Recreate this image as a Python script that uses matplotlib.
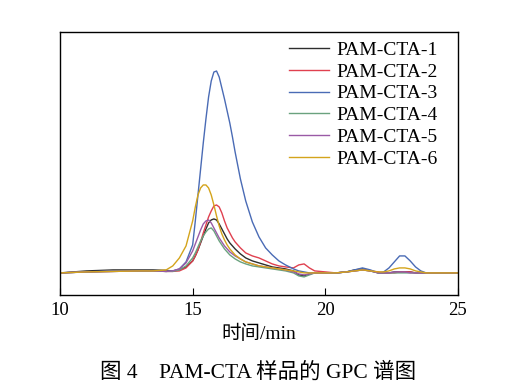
import matplotlib
matplotlib.use('Agg')
import matplotlib.pyplot as plt

plt.rcParams['font.family'] = ['Liberation Serif', 'Noto Sans CJK SC']

# elution time (min) and detector response for each sample
time_min = [10, 11, 12, 13, 13.5, 14, 14.25, 14.5, 14.75,
            15.0, 15.1, 15.2, 15.3, 15.4, 15.5, 15.6, 15.7, 15.8, 15.9,
            16.0, 16.1, 16.2, 16.3, 16.4, 16.5, 16.6, 16.8, 17.0,
            17.25, 17.5, 17.75, 18.0, 18.25, 18.5, 18.8, 19.0, 19.2, 19.4, 19.6,
            20.0, 20.4, 20.8, 21.1, 21.4, 21.7, 22.0, 22.2, 22.4, 22.6,
            22.8, 23.0, 23.2, 23.4, 23.6, 23.8, 24.2, 25]

cta1 = [0, 2, 3, 3, 3, 2.5, 2, 3, 6,
        12, 17, 23, 30, 37, 44, 50, 53, 54, 53,
        49, 44, 39, 34, 30, 27, 24, 19, 15,
        12, 10, 8, 6, 5, 4, 2, -2, -3, -1, 0,
        0, 0, 1, 3, 4, 2, 0, 0, 0, 1,
        1, 1, 1, 0, 0, 0, 0, 0]
cta2 = [0, 1, 1.5, 2, 2, 1.5, 1.5, 2, 5,
        12, 17, 23, 31, 40, 48, 56, 62, 67, 68,
        66, 60, 52, 45, 40, 35, 31, 25, 20,
        17, 15, 12, 9, 7, 6, 5, 8, 9, 5, 2,
        1, 0, 1, 2, 3, 2, 1, 0, 0, 0,
        1, 1, 1, 0, 0, 0, 0, 0]
cta3 = [0, 1, 2, 2, 2, 1.5, 2, 4, 11,
        28, 52, 78, 104, 130, 154, 176, 192, 201, 202,
        196, 185, 174, 162, 150, 136, 121, 94, 72,
        51, 36, 25, 18, 12, 8, 4, 2, 1, 0, 0,
        0, 0, 1, 3, 5, 3, 0, 1, 5, 11,
        17, 17, 12, 6, 2, 0, 0, 0]
cta4 = [0, 1, 1.5, 2, 2, 1.5, 1.5, 3, 7,
        15, 20, 26, 32, 37, 41, 44, 45, 42, 37,
        32, 28, 24, 21, 18, 16, 14, 11, 9,
        7, 6, 5, 4, 3, 2, 0, -3, -4, -2, 0,
        0, 0, 1, 2, 3, 2, 0, 0, 0, 0,
        0, 0, 0, 0, 0, 0, 0, 0]
cta5 = [0, 1, 1.5, 2, 2, 1.5, 2, 4, 10,
        22, 29, 36, 43, 49, 52, 53, 50, 45, 40,
        35, 31, 27, 24, 21, 19, 17, 14, 11,
        9, 7, 6, 5, 4, 3, 1, -1, -2, -1, 0,
        0, 0, 1, 2, 3, 2, 0, 0, 0, 1,
        1, 1, 0, 0, 0, 0, 0, 0]
cta6 = [0, 1, 1.5, 2, 2, 3, 7, 15, 27,
        52, 66, 78, 85, 88, 88, 85, 78, 68, 57,
        47, 39, 33, 28, 24, 21, 18, 14, 11,
        9, 7, 6, 5, 4, 3, 2, 1, 0, 0, 0,
        0, 0, 1, 2, 3, 2, 1, 1, 2, 4,
        5, 5, 4, 2, 1, 0, 0, 0]

labels = ['PAM-CTA-1', 'PAM-CTA-2', 'PAM-CTA-3',
          'PAM-CTA-4', 'PAM-CTA-5', 'PAM-CTA-6']
colors = ['#2e2e2e', '#e0404f', '#4a6bb5', '#6aa27e', '#9a5aa6', '#d4a41c']

fig = plt.figure(figsize=(5.24, 3.86), dpi=100)
ax = fig.add_axes([0.1145, 0.236, 0.7595, 0.681])

for series, label, color in zip([cta1, cta2, cta3, cta4, cta5, cta6], labels, colors):
    ax.plot(time_min, series, color=color, lw=1.0, label=label)

ax.set_xlim(10, 25)
ax.set_ylim(-22, 241)
ax.set_xticks([10, 15, 20, 25])
ax.set_yticks([])
ax.tick_params(axis='x', direction='in', length=5, labelsize=13.5, pad=5)
for s in ax.spines.values():
    s.set_linewidth(1.0)

ax.set_xlabel('时间/min', fontsize=14, labelpad=4)

ax.legend(loc='upper right', bbox_to_anchor=(0.988, 1.025), frameon=False,
          fontsize=14, handlelength=2.05, handletextpad=0.36,
          labelspacing=0.22, borderaxespad=0.4)

fig.text(0.493, 0.022, '图 4    PAM-CTA 样品的 GPC 谱图', ha='center',
         fontsize=15.5)

fig.savefig('out.png', dpi=100)
